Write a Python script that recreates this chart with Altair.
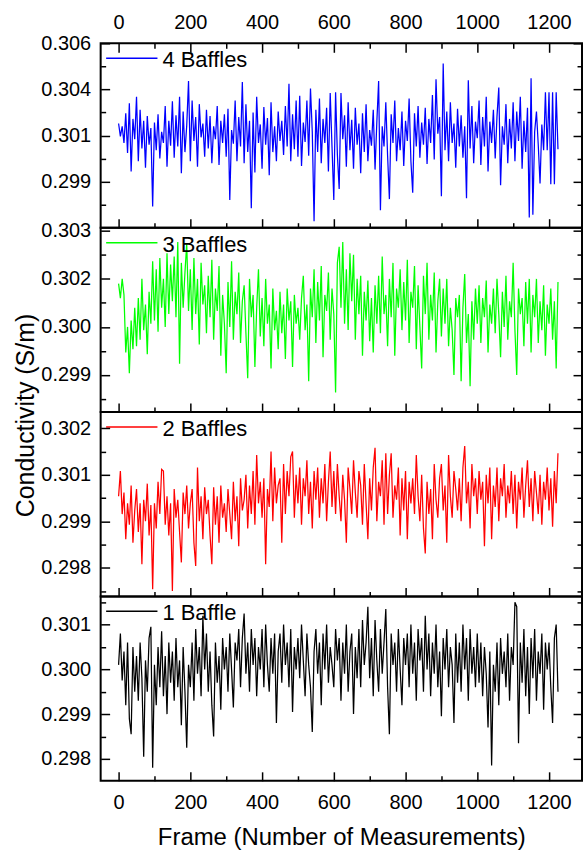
import altair as alt
import pandas as pd

# ---------------- data (every 5th frame) ----------------
frames = list(range(0, 1226, 5))  # 246 frames

cond_4_baffles = [
    0.30165, 0.30095, 0.30150, 0.30060, 0.30220, 0.30005, 0.30275, 0.29905, 0.30190, 0.30080,
    0.30310, 0.29960, 0.30240, 0.30030, 0.30180, 0.29925, 0.30205, 0.30050, 0.30140, 0.29715,
    0.30170, 0.30020, 0.30215, 0.29975, 0.30120, 0.30060, 0.30260, 0.29930, 0.30180, 0.30045,
    0.30285, 0.29980, 0.30210, 0.30040, 0.30310, 0.29895, 0.30230, 0.30010, 0.30155, 0.30395,
    0.29960, 0.30290, 0.30070, 0.30200, 0.29930, 0.30270, 0.30090, 0.30165, 0.29985, 0.30240,
    0.30030, 0.30205, 0.29950, 0.30150, 0.30080, 0.30260, 0.29940, 0.30180, 0.30060, 0.30215,
    0.29985, 0.30245, 0.29750, 0.30130, 0.30055, 0.30290, 0.29960, 0.30200, 0.30040, 0.30390,
    0.29950, 0.30270, 0.30010, 0.30180, 0.29705, 0.30225, 0.29900, 0.30310, 0.30060, 0.30160,
    0.29920, 0.30255, 0.30050, 0.30195, 0.29885, 0.30280, 0.30010, 0.30150, 0.29960, 0.30230,
    0.30070, 0.30180, 0.29995, 0.30260, 0.30040, 0.30380, 0.29960, 0.30215, 0.30025, 0.30290,
    0.29985, 0.30315, 0.29935, 0.30170, 0.30065, 0.30290, 0.29990, 0.30355, 0.30120, 0.29635,
    0.30240, 0.30010, 0.30300, 0.29950, 0.30190, 0.30060, 0.30250, 0.29905, 0.30330, 0.30040,
    0.29750, 0.30335, 0.29995, 0.29810, 0.30330, 0.30080, 0.30210, 0.29930, 0.30280, 0.30020,
    0.30185, 0.29920, 0.30250, 0.30050, 0.30165, 0.29895, 0.30220, 0.30010, 0.30270, 0.29960,
    0.30130, 0.30045, 0.30240, 0.29915, 0.30175, 0.30395, 0.29695, 0.30150, 0.30040, 0.30280,
    0.29990, 0.29755, 0.30215, 0.30060, 0.30290, 0.29960, 0.30140, 0.30020, 0.30230, 0.29935,
    0.30180, 0.30070, 0.30300, 0.29960, 0.29790, 0.30220, 0.30040, 0.30260, 0.29980, 0.30170,
    0.30050, 0.30250, 0.29945, 0.30190, 0.30060, 0.30320, 0.29970, 0.30405, 0.30110, 0.30200,
    0.29770, 0.30490, 0.30020, 0.30230, 0.29960, 0.30280, 0.30060, 0.30165, 0.29925, 0.30245,
    0.30040, 0.30210, 0.29980, 0.30150, 0.29760, 0.30400, 0.30030, 0.30260, 0.29950, 0.30175,
    0.30085, 0.30290, 0.29940, 0.30200, 0.30040, 0.30310, 0.29905, 0.30175, 0.30060, 0.30240,
    0.29975, 0.30205, 0.30360, 0.29830, 0.30150, 0.30050, 0.30270, 0.29950, 0.30190, 0.30030,
    0.30280, 0.29960, 0.30230, 0.30070, 0.30310, 0.29920, 0.30180, 0.30010, 0.30250, 0.29655,
    0.30410, 0.29670, 0.30120, 0.30230, 0.30050, 0.29840, 0.30160, 0.30020, 0.30335, 0.30020,
    0.30335, 0.29835, 0.30335, 0.29835, 0.30335, 0.30025,
]

cond_3_baffles = [
    0.30135, 0.30090, 0.30150, 0.30100, 0.29920, 0.30000, 0.29855, 0.30020, 0.29930, 0.30060,
    0.29940, 0.30090, 0.29960, 0.30150, 0.29990, 0.30070, 0.29915, 0.30110, 0.30010, 0.30205,
    0.30020, 0.30180, 0.29985, 0.30215, 0.30060, 0.30150, 0.30000, 0.30230, 0.30040, 0.30195,
    0.30080, 0.30220, 0.30030, 0.30265, 0.29885, 0.30200, 0.30060, 0.30170, 0.30260, 0.30050,
    0.30180, 0.29990, 0.30215, 0.30040, 0.30150, 0.29945, 0.30200, 0.30070, 0.30130, 0.29980,
    0.30160, 0.30030, 0.30210, 0.29960, 0.30120, 0.30050, 0.30190, 0.29910, 0.30100, 0.30010,
    0.29855, 0.30140, 0.30000, 0.30205, 0.29960, 0.30110, 0.30040, 0.30170, 0.29950, 0.30080,
    0.30130, 0.29980, 0.29840, 0.30150, 0.30030, 0.30100, 0.29875, 0.30060, 0.30180, 0.29970,
    0.30090, 0.29940, 0.30150, 0.30010, 0.30070, 0.29870, 0.30120, 0.29990, 0.30050, 0.29930,
    0.30110, 0.29980, 0.30070, 0.29900, 0.30120, 0.30020, 0.30080, 0.29875, 0.30100, 0.30010,
    0.30060, 0.29960, 0.30090, 0.30160, 0.29990, 0.30070, 0.29830, 0.30120, 0.30030, 0.30180,
    0.29950, 0.30140, 0.30020, 0.30190, 0.29905, 0.30100, 0.30050, 0.30170, 0.29960, 0.30120,
    0.30040, 0.29795, 0.30200, 0.30250, 0.30060, 0.30265, 0.30010, 0.30180, 0.29990, 0.30230,
    0.30080, 0.30225, 0.29960, 0.30150, 0.30040, 0.30160, 0.29910, 0.30110, 0.30020, 0.30145,
    0.29955, 0.30090, 0.29920, 0.30130, 0.30010, 0.30160, 0.29980, 0.30220, 0.30040, 0.30100,
    0.29940, 0.30150, 0.30030, 0.30200, 0.29910, 0.30120, 0.30060, 0.30180, 0.29990, 0.30140,
    0.30020, 0.30210, 0.29950, 0.30110, 0.30060, 0.30190, 0.29930, 0.30130, 0.30000, 0.29870,
    0.30160, 0.30040, 0.30200, 0.29960, 0.30100, 0.30020, 0.30170, 0.29920, 0.30080, 0.30150,
    0.29970, 0.30120, 0.30010, 0.30150, 0.29940, 0.30060, 0.29990, 0.29850, 0.30090, 0.30030,
    0.30100, 0.29830, 0.30060, 0.30165, 0.29950, 0.30040, 0.29815, 0.30080, 0.29960, 0.30120,
    0.30010, 0.30130, 0.29950, 0.30090, 0.30030, 0.30145, 0.29920, 0.30070, 0.30010, 0.30120,
    0.29980, 0.30150, 0.30040, 0.29905, 0.30110, 0.30000, 0.30160, 0.29960, 0.30080, 0.30030,
    0.30200, 0.29990, 0.29850, 0.30120, 0.30040, 0.30090, 0.29940, 0.30140, 0.30010, 0.30150,
    0.29920, 0.30100, 0.30030, 0.30150, 0.29950, 0.30080, 0.29990, 0.30130, 0.29910, 0.30070,
    0.30010, 0.30120, 0.29960, 0.30080, 0.29870, 0.30140,
]

cond_2_baffles = [
    0.30010, 0.30080, 0.29960, 0.30020, 0.29890, 0.29990, 0.29930, 0.30040, 0.29880, 0.29970,
    0.30030, 0.29910, 0.29990, 0.29820, 0.30000, 0.29940, 0.30045, 0.29900, 0.29985, 0.29750,
    0.29990, 0.29920, 0.30050, 0.29960, 0.30085, 0.30080, 0.29930, 0.30010, 0.29900, 0.29990,
    0.29745, 0.30030, 0.29950, 0.30000, 0.29910, 0.29825, 0.30020, 0.29960, 0.30040, 0.29920,
    0.29990, 0.30030, 0.29880, 0.29815, 0.30090, 0.29940, 0.30010, 0.29890, 0.30035, 0.29960,
    0.30000, 0.29900, 0.29820, 0.30035, 0.29930, 0.30010, 0.29880, 0.30040, 0.29950, 0.29990,
    0.29910, 0.30030, 0.29960, 0.29890, 0.30050, 0.29940, 0.30010, 0.29870, 0.30060, 0.29970,
    0.30000, 0.30070, 0.29920, 0.30040, 0.29960, 0.30080, 0.29930, 0.30125, 0.29990, 0.30050,
    0.29950, 0.30060, 0.29820, 0.30030, 0.29980, 0.30135, 0.29940, 0.30090, 0.29990, 0.30040,
    0.30060, 0.29880, 0.30100, 0.29960, 0.30080, 0.30010, 0.30120, 0.30135, 0.29950, 0.30070,
    0.29990, 0.30090, 0.29930, 0.30060, 0.30010, 0.30110, 0.29960, 0.30050, 0.29920, 0.30080,
    0.30000, 0.30090, 0.29950, 0.30060, 0.29990, 0.30100, 0.29940, 0.30050, 0.30135, 0.29980,
    0.30080, 0.29960, 0.30100, 0.30010, 0.29940, 0.30070, 0.30000, 0.29880, 0.30090, 0.30030,
    0.29960, 0.30110, 0.30020, 0.29950, 0.30080, 0.30040, 0.29930, 0.30100, 0.29990, 0.29890,
    0.30060, 0.29970, 0.30090, 0.30145, 0.29940, 0.30050, 0.30010, 0.30110, 0.29930, 0.30130,
    0.29960, 0.30070, 0.30130, 0.29950, 0.30040, 0.30000, 0.30090, 0.29900, 0.30060, 0.29970,
    0.30080, 0.29890, 0.30050, 0.29990, 0.30060, 0.29960, 0.30125, 0.30010, 0.29940, 0.30070,
    0.29920, 0.29850, 0.30050, 0.29960, 0.30030, 0.29890, 0.30100, 0.30000, 0.29950, 0.30060,
    0.30100, 0.29970, 0.30040, 0.29880, 0.30125, 0.30010, 0.29950, 0.30080, 0.30030, 0.29970,
    0.30060, 0.29940, 0.30090, 0.30150, 0.29990, 0.30050, 0.29920, 0.30100, 0.30010, 0.30060,
    0.29960, 0.30080, 0.30000, 0.30050, 0.29870, 0.30070, 0.29990, 0.30090, 0.29890, 0.30040,
    0.29980, 0.30090, 0.29940, 0.30060, 0.30010, 0.30100, 0.29950, 0.30040, 0.29990, 0.30080,
    0.29960, 0.30070, 0.29920, 0.30050, 0.30000, 0.30090, 0.29950, 0.30040, 0.30110, 0.29980,
    0.30060, 0.29940, 0.30080, 0.30020, 0.29960, 0.30070, 0.29930, 0.30050, 0.30000, 0.30090,
    0.29970, 0.30060, 0.29925, 0.30080, 0.29990, 0.30130,
]

cond_1_baffle = [
    0.30010, 0.30080, 0.29975, 0.30040, 0.29920, 0.30060, 0.29890, 0.29855, 0.30050, 0.29950,
    0.30030, 0.29930, 0.30060, 0.29980, 0.29805, 0.30020, 0.29950, 0.30070, 0.30095, 0.29780,
    0.30010, 0.29920, 0.30050, 0.29960, 0.30085, 0.29940, 0.30030, 0.29900, 0.30060, 0.29970,
    0.30040, 0.29930, 0.30070, 0.29960, 0.30020, 0.29875, 0.30050, 0.29950, 0.29825, 0.30010,
    0.29960, 0.30060, 0.29930, 0.30090, 0.29990, 0.30050, 0.29940, 0.30120, 0.30000, 0.30080,
    0.29950, 0.30040, 0.29920, 0.29850, 0.30060, 0.29970, 0.30030, 0.29910, 0.30070, 0.30000,
    0.30050, 0.29950, 0.30080, 0.30000, 0.29915, 0.30060, 0.30020, 0.30090, 0.29960, 0.30070,
    0.30125, 0.29990, 0.30060, 0.29950, 0.30090, 0.30010, 0.30070, 0.29940, 0.30050, 0.30000,
    0.30090, 0.29960, 0.30100, 0.30010, 0.29950, 0.30070, 0.29990, 0.30080, 0.29880, 0.30040,
    0.30080, 0.29970, 0.30100, 0.30010, 0.30060, 0.29960, 0.30090, 0.29905, 0.30050, 0.30000,
    0.30070, 0.29980, 0.30100, 0.30020, 0.29940, 0.30080, 0.30010, 0.29960, 0.29860, 0.30040,
    0.30090, 0.29990, 0.30060, 0.29920, 0.30080, 0.30000, 0.30100, 0.29970, 0.30050, 0.30010,
    0.29960, 0.30090, 0.30020, 0.30070, 0.29930, 0.30060, 0.29990, 0.30100, 0.29950, 0.30040,
    0.30080, 0.29900, 0.30050, 0.29980, 0.30090, 0.29960, 0.30110, 0.30010, 0.30060, 0.30140,
    0.29980, 0.30070, 0.29940, 0.30110, 0.30020, 0.29950, 0.30090, 0.29990, 0.30060, 0.30135,
    0.29960, 0.29855, 0.30080, 0.30010, 0.30060, 0.29950, 0.30090, 0.30000, 0.29920, 0.30070,
    0.30010, 0.30080, 0.29960, 0.30100, 0.29990, 0.30060, 0.29930, 0.30090, 0.30020, 0.30070,
    0.29950, 0.30120, 0.30000, 0.30080, 0.29940, 0.30060, 0.29990, 0.30100, 0.29960, 0.30040,
    0.29895, 0.30070, 0.30000, 0.30090, 0.29960, 0.30050, 0.30010, 0.29880, 0.30080, 0.29970,
    0.30060, 0.29950, 0.30100, 0.30000, 0.30070, 0.29930, 0.30090, 0.29990, 0.30050, 0.29960,
    0.30080, 0.29970, 0.30060, 0.29940, 0.30050, 0.29990, 0.29870, 0.30040, 0.29785, 0.30010,
    0.29950, 0.30060, 0.29920, 0.30070, 0.29990, 0.30040, 0.29960, 0.30080, 0.29930, 0.30050,
    0.30010, 0.30150, 0.30140, 0.29835, 0.30060, 0.29970, 0.30090, 0.29940, 0.30050, 0.29900,
    0.30070, 0.29980, 0.30090, 0.29930, 0.30040, 0.29990, 0.30080, 0.29910, 0.30060, 0.30000,
    0.30060, 0.29960, 0.29880, 0.30070, 0.30100, 0.29950,
]

series = [cond_4_baffles, cond_3_baffles, cond_2_baffles, cond_1_baffle]
series_labels = ["4 Baffles", "3 Baffles", "2 Baffles", "1 Baffle"]
series_colors = ["#0000ff", "#00ff00", "#ff0000", "#000000"]

x_domain = [-50, 1292]
x_major = [0, 200, 400, 600, 800, 1000, 1200]
x_minor = [100, 300, 500, 700, 900, 1100]

y_domains = [
    [0.2960, 0.3060],
    [0.29734, 0.30310],
    [0.29730, 0.30245],
    [0.29751, 0.30163],
]
y_major = [
    [0.2985, 0.3010, 0.3035, 0.3060],
    [0.2985, 0.3000, 0.3015, 0.3030],
    [0.2981, 0.2994, 0.3007, 0.3020],
    [0.2980, 0.2990, 0.3000, 0.3010],
]
y_major_labels = [
    ["0.299", "0.301", "0.304", "0.306"],
    ["0.299", "0.300", "0.302", "0.303"],
    ["0.298", "0.299", "0.301", "0.302"],
    ["0.298", "0.299", "0.300", "0.301"],
]
y_minor = [
    [0.29725, 0.29975, 0.30225, 0.30475],
    [0.29775, 0.29925, 0.30075, 0.30225],
    [0.29745, 0.29875, 0.30005, 0.30135],
    [0.2985, 0.2995, 0.3005, 0.3015],
]

# ---------------- styling ----------------
FONT = "Liberation Sans, Arial, Helvetica, sans-serif"
W, H = 483, 185
MAJ, MIN = 9, 5


def label_expr(vals, labs):
    expr = "'" + labs[-1] + "'"
    for k in range(len(vals) - 2, -1, -1):
        mid = (vals[k] + vals[k + 1]) / 2
        expr = "datum.value < %.6f ? '%s' : (%s)" % (mid, labs[k], expr)
    return expr


def panel(i):
    df = pd.DataFrame({"frame": frames, "cond": series[i]})
    xs = alt.Scale(domain=x_domain, nice=False, zero=False)
    ys = alt.Scale(domain=y_domains[i], nice=False, zero=False)
    first, last = i == 0, i == 3
    common = dict(labelFlush=False, labelOverlap=False, grid=False, domain=False, zindex=1)

    # main line: bottom major x axis + left major y axis (labels)
    xa = dict(orient="bottom", values=x_major, tickSize=MAJ, offset=-MAJ, labels=last,
              format="d", **common)
    if last:
        xa.update(title="Frame (Number of Measurements)", labelPadding=12,
                  titleY=66, titleBaseline="middle", titleFontSize=24)
    else:
        xa.update(title=None)
    ya = dict(orient="left", values=y_major[i], tickSize=MAJ, offset=-MAJ,
              labelPadding=10, labelExpr=label_expr(y_major[i], y_major_labels[i]), **common)
    if i == 2:
        ya.update(title="Conductivity (S/m)", titleX=-84.5, titleY=3,
                  titleBaseline="middle", titleFontSize=25)
    else:
        ya.update(title=None)

    line = alt.Chart(df).mark_line(color=series_colors[i], strokeWidth=1.25, clip=True).encode(
        x=alt.X("frame:Q", scale=xs, axis=alt.Axis(**xa)),
        y=alt.Y("cond:Q", scale=ys, axis=alt.Axis(**ya)),
    )

    def carrier(xaxis, yaxis):
        return alt.Chart(df).mark_line(strokeOpacity=0).encode(
            x=alt.X("frame:Q", scale=xs, axis=xaxis),
            y=alt.Y("cond:Q", scale=ys, axis=yaxis),
        )

    # minor bottom / minor left
    c_minor = carrier(
        alt.Axis(orient="bottom", values=x_minor, tickSize=MIN, offset=-MIN, labels=False, title=None, **common),
        alt.Axis(orient="left", values=y_minor[i], tickSize=MIN, offset=-MIN, labels=False, title=None, **common),
    )
    # top major (panel 1 only) / right major
    if first:
        top_major = alt.Axis(orient="top", values=x_major, tickSize=MAJ, offset=-MAJ,
                             labelPadding=11, format="d", title=None, **common)
        top_minor = alt.Axis(orient="top", values=x_minor, tickSize=MIN, offset=-MIN,
                             labels=False, title=None, **common)
    else:
        top_major = None
        top_minor = None
    c_right = carrier(
        top_major,
        alt.Axis(orient="right", values=y_major[i], tickSize=MAJ, offset=-MAJ, labels=False, title=None, **common),
    )
    c_right_minor = carrier(
        top_minor,
        alt.Axis(orient="right", values=y_minor[i], tickSize=MIN, offset=-MIN, labels=False, title=None, **common),
    )

    leg_df = pd.DataFrame({"label": [series_labels[i]]})
    leg_line = alt.Chart(leg_df).mark_rule(color=series_colors[i], strokeWidth=1.5).encode(
        x=alt.value(5.5), x2=alt.value(57), y=alt.value(15)
    )
    leg_text = alt.Chart(leg_df).mark_text(
        align="left", baseline="middle", font=FONT, fontSize=22, color="black"
    ).encode(x=alt.value(62), y=alt.value(17), text="label:N")

    return alt.layer(line, c_minor, c_right, c_right_minor, leg_line, leg_text).resolve_axis(
        x="independent", y="independent"
    ).properties(width=W, height=H)


chart = alt.vconcat(*[panel(i) for i in range(4)], spacing=0, bounds="flush").properties(
    padding={"left": 12, "top": 10, "right": 0, "bottom": 0}
).configure_view(
    stroke="black", strokeWidth=2
).configure_axis(
    labelFont=FONT, labelFontSize=20, labelColor="black",
    titleFont=FONT, titleColor="black", titleFontWeight="normal",
    tickColor="black", tickWidth=1.5,
)

chart.save("out.html", embed_options={"renderer": "svg", "actions": False})
